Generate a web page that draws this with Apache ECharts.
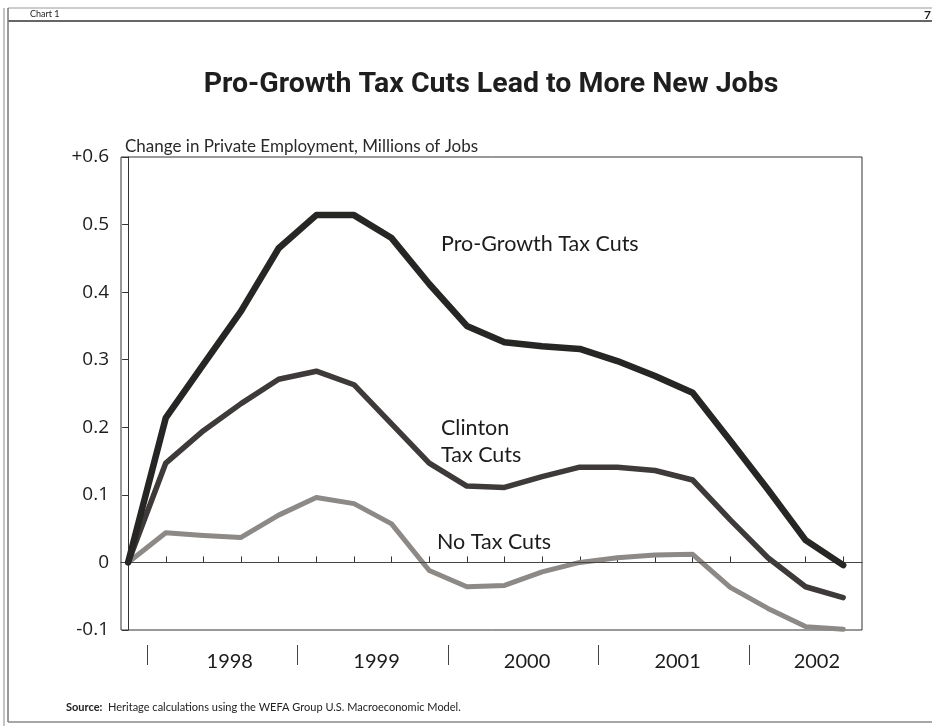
<!DOCTYPE html>
<html>
<head>
<meta charset="utf-8">
<script src="https://cdn.jsdelivr.net/npm/echarts@6/dist/echarts.min.js"></script>
<style>
html,body{margin:0;padding:0;background:#fff;}
#c{width:932px;height:726px;}
</style>
</head>
<body>
<div id="c"></div>
<script>
// Quarterly observations (index = position on the x scale)
var quarters = ['1997 Q4','1998 Q1','1998 Q2','1998 Q3','1998 Q4','1999 Q1','1999 Q2','1999 Q3','1999 Q4',
  '2000 Q1','2000 Q2','2000 Q3','2000 Q4','2001 Q1','2001 Q2','2001 Q3','2001 Q4','2002 Q1','2002 Q2','2002 Q3'];
var proGrowth = [0, 0.214, 0.293, 0.372, 0.465, 0.514, 0.514, 0.480, 0.412, 0.350, 0.326, 0.320, 0.316, 0.298, 0.276, 0.251, 0.180, 0.108, 0.033, -0.004];
var clinton   = [0, 0.147, 0.195, 0.235, 0.271, 0.283, 0.263, 0.205, 0.147, 0.113, 0.111, 0.127, 0.141, 0.141, 0.136, 0.122, 0.063, 0.007, -0.036, -0.052];
var noTax     = [0, 0.044, 0.040, 0.037, 0.070, 0.096, 0.087, 0.057, -0.012, -0.036, -0.034, -0.014, 0.000, 0.007, 0.011, 0.012, -0.037, -0.068, -0.095, -0.099];

var yearLabels = ['1998', '1999', '2000', '2001', '2002'];
var yearLabelPos = [2.7, 6.6, 10.6, 14.6, 18.3];
var yearSeparators = [0.5, 4.5, 8.5, 12.5, 16.5];
var yTickLabels = {'-0.1': '-0.1', '0': '0', '0.1': '0.1', '0.2': '0.2', '0.3': '0.3', '0.4': '0.4', '0.5': '0.5', '0.6': '+0.6'};

function pairs(arr){ return arr.map(function(v,i){ return [i, v]; }); }
var quarterTicks = quarters.map(function(q,i){ return i; });

var chart = echarts.init(document.getElementById('c'), null, {renderer:'canvas'});
var ink = '#1c1c1c';
var bodyFont = 'Lato, "Open Sans", sans-serif';
var numFont = '"Open Sans", Lato, sans-serif';

chart.setOption({
  backgroundColor: '#fff',
  animation: false,
  grid: {left: 121, right: 70, top: 157, bottom: 96, show: true, borderColor: '#333', borderWidth: 1, backgroundColor: 'transparent'},
  xAxis: [{
    type: 'value', min: -0.19, max: 19.5,
    axisLine: {show: true, lineStyle: {color: '#333', width: 1}},
    axisTick: {show: true, inside: true, length: 6, customValues: quarterTicks, lineStyle: {color: '#333'}},
    axisLabel: {show: false},
    splitLine: {show: false}
  }, {
    type: 'value', min: -0.19, max: 19.5, position: 'bottom', offset: 15,
    axisLine: {show: false},
    axisTick: {show: true, inside: false, length: 20, customValues: yearSeparators, lineStyle: {color: '#444'}},
    axisLabel: {show: true, customValues: yearLabelPos, margin: 7, color: ink, fontFamily: bodyFont, fontSize: 20,
      formatter: function(v){ var k = yearLabelPos.indexOf(v); return k >= 0 ? yearLabels[k] : ''; }},
    splitLine: {show: false}
  }],
  yAxis: {
    type: 'value', min: -0.1, max: 0.6, interval: 0.1,
    axisLine: {show: true, lineStyle: {color: '#333', width: 1}},
    axisTick: {show: true, inside: false, length: 6, lineStyle: {color: '#333'}},
    axisLabel: {margin: 12, color: ink, fontFamily: numFont, fontSize: 19,
      formatter: function(v){ var k = String(Math.round(v*10)/10); return yTickLabels[k] !== undefined ? yTickLabels[k] : k; }},
    splitLine: {show: false}
  },
  series: [{
    name: 'No Tax Cuts', type: 'line', data: pairs(noTax), symbol: 'none', z: 3,
    lineStyle: {color: '#8c8986', width: 5, join: 'round', cap: 'round'},
    markLine: {silent: true, symbol: 'none', label: {show: false}, lineStyle: {color: '#444', width: 1, type: 'solid'}, data: [{yAxis: 0}]}
  }, {
    name: 'Clinton Tax Cuts', type: 'line', data: pairs(clinton), symbol: 'none', z: 4,
    lineStyle: {color: '#3e3a39', width: 5.5, join: 'round', cap: 'round'}
  }, {
    name: 'Pro-Growth Tax Cuts', type: 'line', data: pairs(proGrowth), symbol: 'none', z: 5,
    lineStyle: {color: '#262624', width: 6.5, join: 'round', cap: 'round'}
  }],
  graphic: [
    {type: 'line', shape: {x1: 8, y1: 8, x2: 932, y2: 8}, style: {stroke: '#999', lineWidth: 1}},
    {type: 'line', shape: {x1: 8, y1: 21, x2: 932, y2: 21}, style: {stroke: '#666', lineWidth: 2}},
    {type: 'line', shape: {x1: 4, y1: 8, x2: 4, y2: 726}, style: {stroke: '#888', lineWidth: 1}},
    {type: 'line', shape: {x1: 8, y1: 8, x2: 8, y2: 722}, style: {stroke: '#777', lineWidth: 1.5}},
    {type: 'line', shape: {x1: 8, y1: 722, x2: 932, y2: 722}, style: {stroke: '#888', lineWidth: 1.5}},
    {type: 'text', left: 30, top: 10, style: {text: 'Chart 1', font: '9px ' + bodyFont, fill: '#222'}},
    {type: 'text', left: 924, top: 9, style: {text: '7', font: 'bold 12px ' + bodyFont, fill: '#222'}},
    {type: 'text', x: 491, y: 70, style: {text: 'Pro-Growth Tax Cuts Lead to More New Jobs', textAlign: 'center', font: 'bold 28.5px Roboto, sans-serif', fill: '#1e1e1e'}},
    {type: 'text', left: 125, top: 138, style: {text: 'Change in Private Employment, Millions of Jobs', font: '17px ' + bodyFont, fill: '#2a2a2a'}},
    {type: 'text', left: 441, top: 233, style: {text: 'Pro-Growth Tax Cuts', font: '21.5px ' + bodyFont, fill: ink}},
    {type: 'text', left: 441, top: 415, style: {text: 'Clinton\nTax Cuts', font: '21.5px ' + bodyFont, fill: ink, lineHeight: 27}},
    {type: 'text', left: 437, top: 531, style: {text: 'No Tax Cuts', font: '21.5px ' + bodyFont, fill: ink}},
    {type: 'text', left: 66, top: 702, style: {
      text: '{b|Source:}  Heritage calculations using the WEFA Group U.S. Macroeconomic Model.',
      font: '11px ' + bodyFont, fill: '#222',
      rich: {b: {fontWeight: 'bold', fontSize: 11, fontFamily: bodyFont, fill: '#222'}}
    }}
  ]
});
</script>
</body>
</html>
